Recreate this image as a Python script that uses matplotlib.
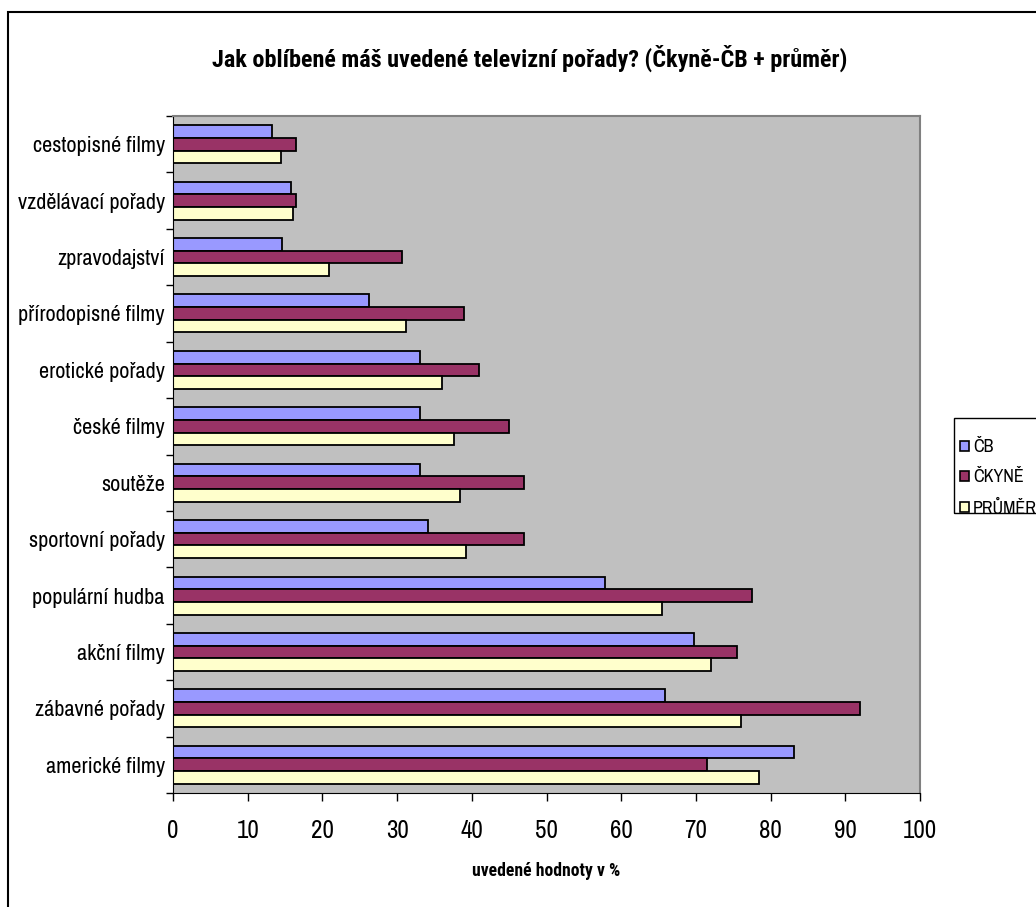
import matplotlib
matplotlib.use("Agg")
import matplotlib.pyplot as plt
from matplotlib.patches import Rectangle, Patch
import numpy as np

categories = ["americké filmy", "zábavné pořady", "akční filmy", "populární hudba",
              "sportovní pořady", "soutěže", "české filmy", "erotické pořady",
              "přírodopisné filmy", "zpravodajství", "vzdělávací pořady", "cestopisné filmy"]
cb = [83.1, 65.8, 69.8, 57.8, 34.2, 33.0, 33.0, 33.0, 26.3, 14.6, 15.8, 13.2]
ckyne = [71.5, 92.0, 75.5, 77.5, 47.0, 47.0, 45.0, 40.9, 38.9, 30.6, 16.4, 16.4]
prumer = [78.4, 76.0, 72.0, 65.5, 39.2, 38.4, 37.6, 36.0, 31.2, 20.9, 16.1, 14.4]
series_names = ["ČB", "ČKYNĚ", "PRŮMĚR"]
colors = ["#9999FF", "#993366", "#FFFFCC"]
xticks = list(range(0, 101, 10))

plt.rcParams['font.family'] = ['Archivo Narrow', 'Liberation Sans', 'DejaVu Sans']
bold_family = ['Roboto Condensed', 'PT Sans Narrow', 'Liberation Sans', 'DejaVu Sans']

W, H = 1036, 907
fig = plt.figure(figsize=(W / 100, H / 100), dpi=100)
ax = fig.add_axes([173/W, 1-793/H, (920-173)/W, (793-116)/H])
ax.set_facecolor("#C0C0C0")

y = np.arange(len(categories))
h = 0.225
vals = [cb, ckyne, prumer]
for i, (v, c, n) in enumerate(zip(vals, colors, series_names)):
    ax.barh(y + (1 - i) * h, v, height=h, color=c, edgecolor="black", linewidth=1.3, label=n)

ax.set_xlim(0, 100)
ax.set_ylim(-0.5, len(categories) - 0.5)
ax.set_xticks(xticks)
ax.set_xticklabels([str(t) for t in xticks], fontsize=18)
ax.set_yticks(y)
ax.set_yticklabels(categories, fontsize=16)
ax.set_yticks(np.arange(-0.5, len(categories), 1), minor=True)
ax.tick_params(axis='y', which='major', length=0, pad=6)
ax.tick_params(axis='y', which='minor', length=5, direction='out', width=1)
ax.tick_params(axis='x', length=6, direction='out', width=1, pad=13)
for s in ["top", "right"]:
    ax.spines[s].set_color("#808080")
    ax.spines[s].set_linewidth(1.5)
ax.set_xlabel("uvedené hodnoty v %", fontsize=12.7, fontweight="bold", family=bold_family,
              labelpad=14)

fig.text(530/W, 1-58/H, "Jak oblíbené máš uvedené televizní pořady? (Čkyně-ČB + průměr)",
         ha="center", va="center", fontsize=17.4, fontweight="bold", family=bold_family)

fig.patches.append(Rectangle((8/W, -0.1), 1.2, 1.1 - 12/H, transform=fig.transFigure,
                             fill=False, edgecolor="black", linewidth=1.5, zorder=0))

# legend frame drawn separately
fig.patches.append(Rectangle((954/W, 1-513/H), 0.2, (513-418)/H, transform=fig.transFigure,
                             fill=False, edgecolor="black", linewidth=1, zorder=1))
handles = [Patch(facecolor=c, edgecolor="black", linewidth=1.2) for c in colors]
leg = fig.legend(handles, series_names, loc="upper left", bbox_to_anchor=(955/W, 1-434/H),
                 frameon=False, fontsize=13,
                 handlelength=0.5, handleheight=0.5, handletextpad=0.2, labelspacing=0.78,
                 borderpad=0.3, borderaxespad=0)

fig.savefig("out.png", dpi=100, facecolor="white")
